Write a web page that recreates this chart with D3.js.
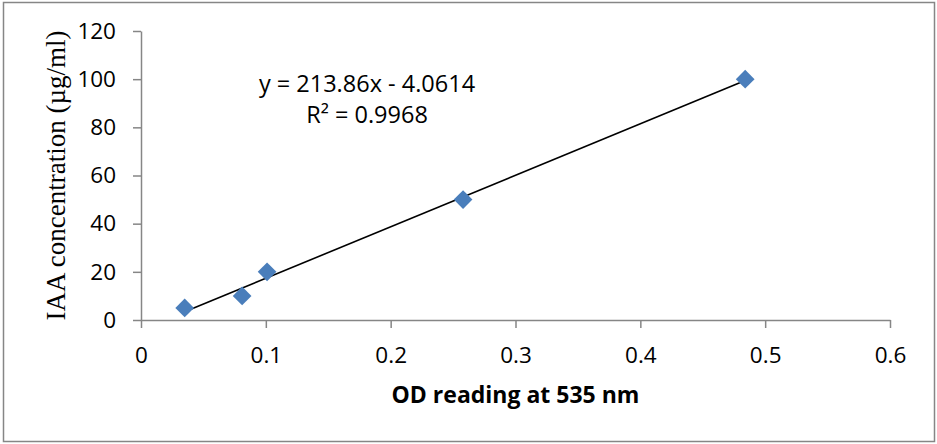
<!DOCTYPE html>
<html>
<head>
<meta charset="utf-8">
<script src="https://cdn.jsdelivr.net/npm/d3@7"></script>
<style>
  body { margin: 0; background: #fff; }
  svg { display: block; }
</style>
</head>
<body>
<script>
// data
const odReading = [0.035, 0.081, 0.101, 0.258, 0.484];
const iaaConc = [5, 10, 20, 50, 100];
const xTicks = [0, 0.1, 0.2, 0.3, 0.4, 0.5, 0.6];
const yTicks = [0, 20, 40, 60, 80, 100, 120];
const slope = 213.86;
const intercept = -4.0614;
const eqLines = ['y = 213.86x - 4.0614', 'R² = 0.9968'];

const width = 937, height = 444;
const margin = {top: 31, right: 47, bottom: 124, left: 141};
const sans = "'Open Sans', 'Liberation Sans', sans-serif";
const axisGrey = '#868686';

const svg = d3.select('body')
  .append('svg')
  .attr('width', width)
  .attr('height', height);

// outer frame
svg.append('rect')
  .attr('x', 3.5)
  .attr('y', 2.5)
  .attr('width', 931)
  .attr('height', 439)
  .attr('fill', 'none')
  .attr('stroke', '#868686')
  .attr('stroke-width', 1.5);

const x = d3.scaleLinear()
  .domain([0, 0.6])
  .range([margin.left, width - margin.right]);

const y = d3.scaleLinear()
  .domain([0, 120])
  .range([height - margin.bottom, margin.top]);

// axes
let xAxis = svg.append('g')
  .attr('transform', `translate(0,${y(0)})`)
  .call(d3.axisBottom(x)
    .tickValues(xTicks)
    .tickSize(8)
    .tickSizeOuter(0)
    .tickPadding(19)
    .tickFormat(d3.format('')));

let yAxis = svg.append('g')
  .attr('transform', `translate(${x(0)},0)`)
  .call(d3.axisLeft(y)
    .tickValues(yTicks)
    .tickSize(8)
    .tickSizeOuter(0)
    .tickPadding(17));

[xAxis, yAxis].forEach(g => {
  g.select('.domain').attr('stroke', axisGrey).attr('stroke-width', 1.5);
  g.selectAll('.tick line').attr('stroke', axisGrey).attr('stroke-width', 1.5);
  g.selectAll('.tick text')
    .attr('fill', '#000')
    .attr('font-family', sans)
    .attr('font-size', 22.5);
});

// trendline over the data range
const xExt = d3.extent(odReading);
svg.append('line')
  .attr('x1', x(xExt[0]))
  .attr('y1', y(slope * xExt[0] + intercept))
  .attr('x2', x(xExt[1]))
  .attr('y2', y(slope * xExt[1] + intercept))
  .attr('stroke', '#000')
  .attr('stroke-width', 1.6);

// diamond markers
const diamond = d3.symbol().type(d3.symbolSquare).size(175);
svg.selectAll('.pt').data(odReading)
  .enter()
    .append('path')
    .attr('class', 'pt')
    .attr('d', diamond)
    .attr('transform', (d, i) => `translate(${x(d)},${y(iaaConc[i])}) rotate(45)`)
    .attr('fill', '#4a7ebb');

// equation label
svg.append('g').selectAll('text').data(eqLines)
  .enter()
    .append('text')
    .attr('x', 367)
    .attr('y', (d, i) => 92 + i * 31)
    .attr('text-anchor', 'middle')
    .attr('font-family', sans)
    .attr('font-size', 23.5)
    .text(d => d);

// axis titles
svg.append('text')
  .attr('x', (x(0) + x(0.6)) / 2)
  .attr('y', 403)
  .attr('text-anchor', 'middle')
  .attr('font-family', sans)
  .attr('font-weight', 'bold')
  .attr('font-size', 23)
  .text('OD reading at 535 nm');

svg.append('text')
  .attr('transform', `translate(65,${(y(0) + y(120)) / 2}) rotate(-90)`)
  .attr('text-anchor', 'middle')
  .attr('font-family', "'Liberation Serif', 'Times New Roman', serif")
  .attr('font-size', 27)
  .text('IAA concentration (µg/ml)');
</script>
</body>
</html>
